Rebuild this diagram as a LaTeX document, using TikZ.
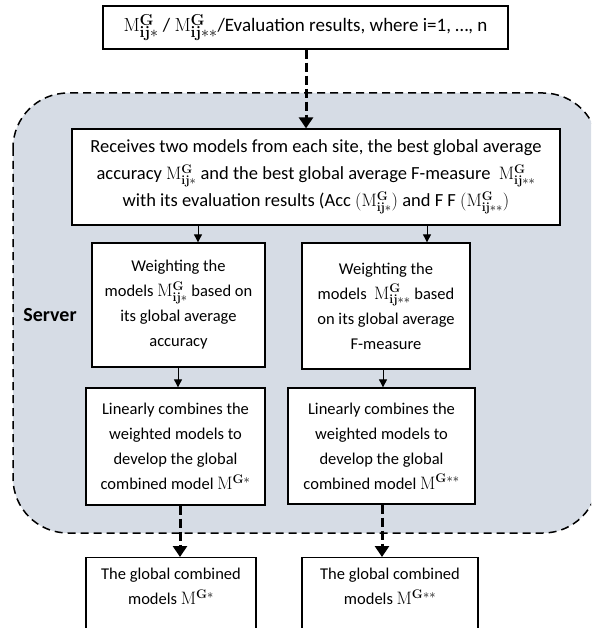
\documentclass[tikz,border=0pt]{standalone}
\usepackage[no-math]{fontspec}
\setmainfont{Carlito}
\usetikzlibrary{arrows.meta}
\definecolor{srvfill}{HTML}{D6DCE5}
\newcommand{\Mone}{\scalebox{1.04}{$\mathrm{M}^{\mathbf{G}}_{\mathbf{ij}*}$}}
\newcommand{\Mtwo}{\scalebox{1.04}{$\mathrm{M}^{\mathbf{G}}_{\mathbf{ij}**}$}}
\newcommand{\Gone}{\scalebox{1.04}{$\mathrm{M}^{\mathbf{G}*}$}}
\newcommand{\Gtwo}{\scalebox{1.04}{$\mathrm{M}^{\mathbf{G}**}$}}
\tikzset{
  box/.style={draw=black, line width=1.3pt, fill=white, align=center, inner sep=0pt,
    font=\fontsize{16.5}{25}\selectfont},
  thinarrow/.style={line width=0.9pt, -{Triangle[width=8pt,length=8pt]}},
  thickarrow/.style={line width=3pt, dash pattern=on 9pt off 4pt, -{Triangle[width=14pt,length=11pt]}},
}
\begin{document}
\begin{tikzpicture}[x=1pt,y=-1pt]
\clip (0,0) rectangle (591,628);
\fill[white] (0,0) rectangle (591,628);
% server region
\draw[fill=srvfill, line width=1.5pt, dash pattern=on 8pt off 5pt, rounded corners=55pt]
  (13,93) rectangle (598,533);
\node[font=\fontsize{20}{24}\selectfont\bfseries] (srv) at (50,315) {Server};
% boxes
\node[box, minimum width=405pt, minimum height=43pt, font=\fontsize{19}{25}\selectfont] (top) at (305.5,27.5)
  {\scalebox{1.06}{\Mone} / \scalebox{1.06}{\Mtwo}/Evaluation results, where i=1, \dots, n};
\node[box, minimum width=488pt, minimum height=96pt, font=\fontsize{18.5}{27}\selectfont] (main) at (316,177)
  {Receives two models from each site, the best global average\\
   accuracy \Mone{} and the best global average F-measure \ \Mtwo\\
   with its evaluation results (Acc \scalebox{1.04}{$\big(\mathrm{M}^{\mathbf{G}}_{\mathbf{ij}*}\big)$} and F F \scalebox{1.04}{$(\mathrm{M}^{\mathbf{G}}_{\mathbf{ij}**})$}};
\node[box, minimum width=173pt, minimum height=124pt] (wl) at (178.5,305)
  {Weighting the\\ models \Mone{} based on\\ its global average\\ accuracy};
\node[box, minimum width=168pt, minimum height=126pt] (wr) at (386,306)
  {Weighting the\\ models \ \Mtwo{} based\\ on its global average\\ F-measure};
\node[box, minimum width=179pt, minimum height=117pt] (ll) at (175.5,446.5)
  {Linearly combines the\\ weighted models to\\ develop the global\\ combined model \Gone};
\node[box, minimum width=187pt, minimum height=116pt] (lr) at (381.5,446)
  {Linearly combines the\\ weighted models to\\ develop the global\\ combined model \Gtwo};
\node[box, minimum width=170pt, minimum height=90pt, anchor=north] (fl) at (171,557) {};
\node[box, minimum width=176pt, minimum height=90pt, anchor=north] (fr) at (390,557) {};
\node[font=\fontsize{16.5}{25}\selectfont, align=center, anchor=north, inner sep=0pt] (flt) at (171,568)
  {The global combined\\ models \Gone};
\node[font=\fontsize{16.5}{25}\selectfont, align=center, anchor=north, inner sep=0pt] (frt) at (390,568)
  {The global combined\\ models \Gtwo};
% connector columns
\coordinate (c0) at (306,0);
\coordinate (c1) at (198,0);
\coordinate (c2) at (427,0);
\coordinate (c3) at (178,0);
\coordinate (c4) at (383,0);
\coordinate (c5) at (180,0);
\coordinate (c6) at (382,0);
% connectors
\draw[thickarrow] (c0 |- top.south) -- (c0 |- main.north);
\draw[thinarrow] (c1 |- main.south) -- (c1 |- wl.north);
\draw[thinarrow] (c2 |- main.south) -- (c2 |- wr.north);
\draw[thinarrow] (c3 |- wl.south) -- (c3 |- ll.north);
\draw[thinarrow] (c4 |- wr.south) -- (c4 |- lr.north);
\draw[thickarrow] (c5 |- ll.south) -- (c5 |- fl.north);
\draw[thickarrow] (c6 |- lr.south) -- (c6 |- fr.north);
\end{tikzpicture}
\end{document}
